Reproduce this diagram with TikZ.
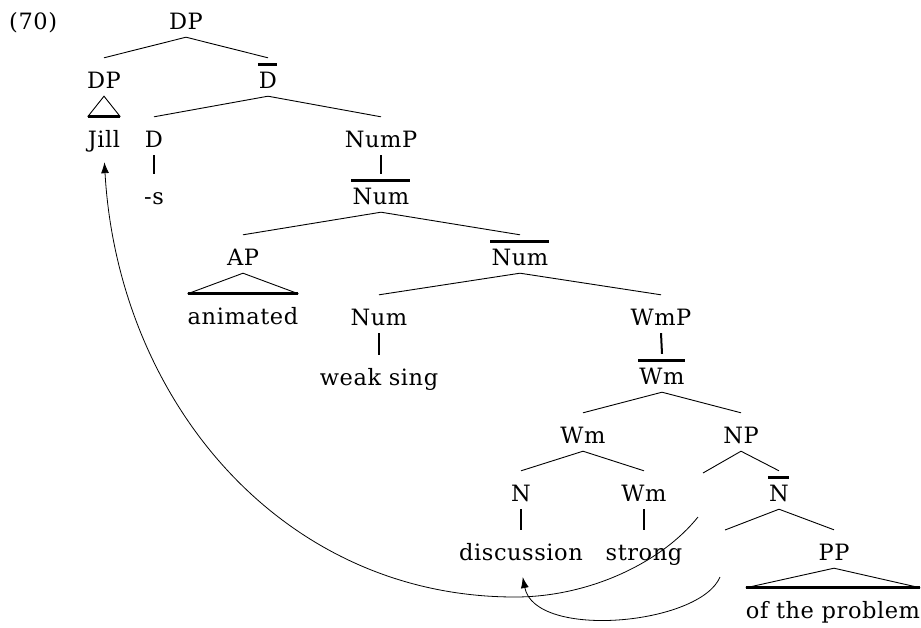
\documentclass[tikz,border=0pt]{standalone}
\usepackage{fontspec}
\setmainfont{DejaVu Serif}[LetterSpace=2.5]
\usetikzlibrary{calc,arrows.meta}
\begin{document}
\begin{tikzpicture}[x=1pt,y=-1pt,
  lab/.style={font=\fontsize{22.5}{26}\selectfont, inner sep=0pt, text height=30pt, text depth=8pt, anchor=base},
  br/.style={line width=0.9pt},
  un/.style={line width=2pt},
  tb/.style={line width=2.8pt},
  mv/.style={line width=0.8pt, -{Latex[length=11pt,width=8pt]}}]
\useasboundingbox (0,0) rectangle (921,627);
% nodes
\node[lab, anchor=base west] (ex) at (9,29) {(70)};
\node[lab] (dp) at (186,29) {DP};
\node[lab] (spec) at (104,88) {DP};
\node[lab] (dbar) at (268,88) {D};
\node[lab] (jill) at (104,147) {Jill};
\node[lab] (d) at (154,147) {D};
\node[lab] (s) at (154,204) {-s};
\node[lab] (nump) at (381,147) {NumP};
\node[lab] (numbar) at (381,204) {Num};
\node[lab] (ap) at (243,265) {AP};
\node[lab] (numbarb) at (520,265) {Num};
\node[lab] (anim) at (243,324) {animated};
\node[lab] (num) at (379,325) {Num};
\node[lab] (wmp) at (661,325) {WmP};
\node[lab] (weak) at (379,385) {weak sing};
\node[lab] (wmbar) at (662,384) {Wm};
\node[lab] (wm) at (583,443) {Wm};
\node[lab] (np) at (741,443) {NP};
\node[lab] (n) at (521,501) {N};
\node[lab] (wmb) at (644,501) {Wm};
\node[lab] (nbar) at (779,501) {N};
\node[lab] (disc) at (521,560) {discussion};
\node[lab] (strong) at (644,560) {strong};
\node[lab] (pp) at (834,560) {PP};
\node[lab] (prob) at (833,618) {of the problem};
% bars
\foreach \b in {dbar,numbar,numbarb,wmbar,nbar}
  \draw[tb] ([xshift=-1pt,yshift=-6.5pt]\b.north west) -- ([xshift=0pt,yshift=-6.5pt]\b.north east);
% branches
\draw[br] (dp.south) -- (spec.north);
\draw[br] (dp.south) -- (dbar.north);
\draw[br] (dbar.south) -- (d.north);
\draw[br] (dbar.south) -- (nump.north);
\draw[br] (numbar.south) -- (ap.north);
\draw[br] (numbar.south) -- (numbarb.north);
\draw[br] (numbarb.south) -- (num.north);
\draw[br] (numbarb.south) -- (wmp.north);
\draw[br] (wmbar.south) -- (wm.north);
\draw[br] (wmbar.south) -- (np.north);
\draw[br] (wm.south) -- (n.north);
\draw[br] (wm.south) -- (wmb.north);
\draw[br] (np.south) -- (nbar.north);
\draw[br] (nbar.south) -- (pp.north);
% empty left branches
\coordinate (npl) at (703,473);
\coordinate (nbl) at (725,530);
\draw[br] (np.south) -- (npl);
\draw[br] (nbar.south) -- (nbl);
% unary
\draw[un] (d.south) -- (s.north);
\draw[un] (nump.south) -- (numbar.north);
\draw[un] (num.south) -- (weak.north);
\draw[un] (wmp.south) -- (wmbar.north);
\draw[un] (n.south) -- (disc.north);
\draw[un] (wmb.south) -- (strong.north);
% triangles
\draw[br] (jill.north west) -- (spec.south) -- (jill.north east);
\draw[tb] (jill.north west) -- (jill.north east);
\draw[br] (anim.north west) -- (ap.south) -- (anim.north east);
\draw[tb] (anim.north west) -- (anim.north east);
\draw[br] (prob.north west) -- (pp.south) -- (prob.north east);
\draw[tb] (prob.north west) -- (prob.north east);
% movement arrows
\coordinate (s1) at (698,517);
\coordinate (s2) at (720,577);
\draw[mv, shorten >=7pt] (s1) .. controls (662,562) and (590,597) .. (515,597) .. controls (281,597) and (118,400) .. (jill.south);
\draw[mv, shorten >=9pt] (s2) .. controls (700,625) and (535,640) .. (disc.south);
\end{tikzpicture}
\end{document}
